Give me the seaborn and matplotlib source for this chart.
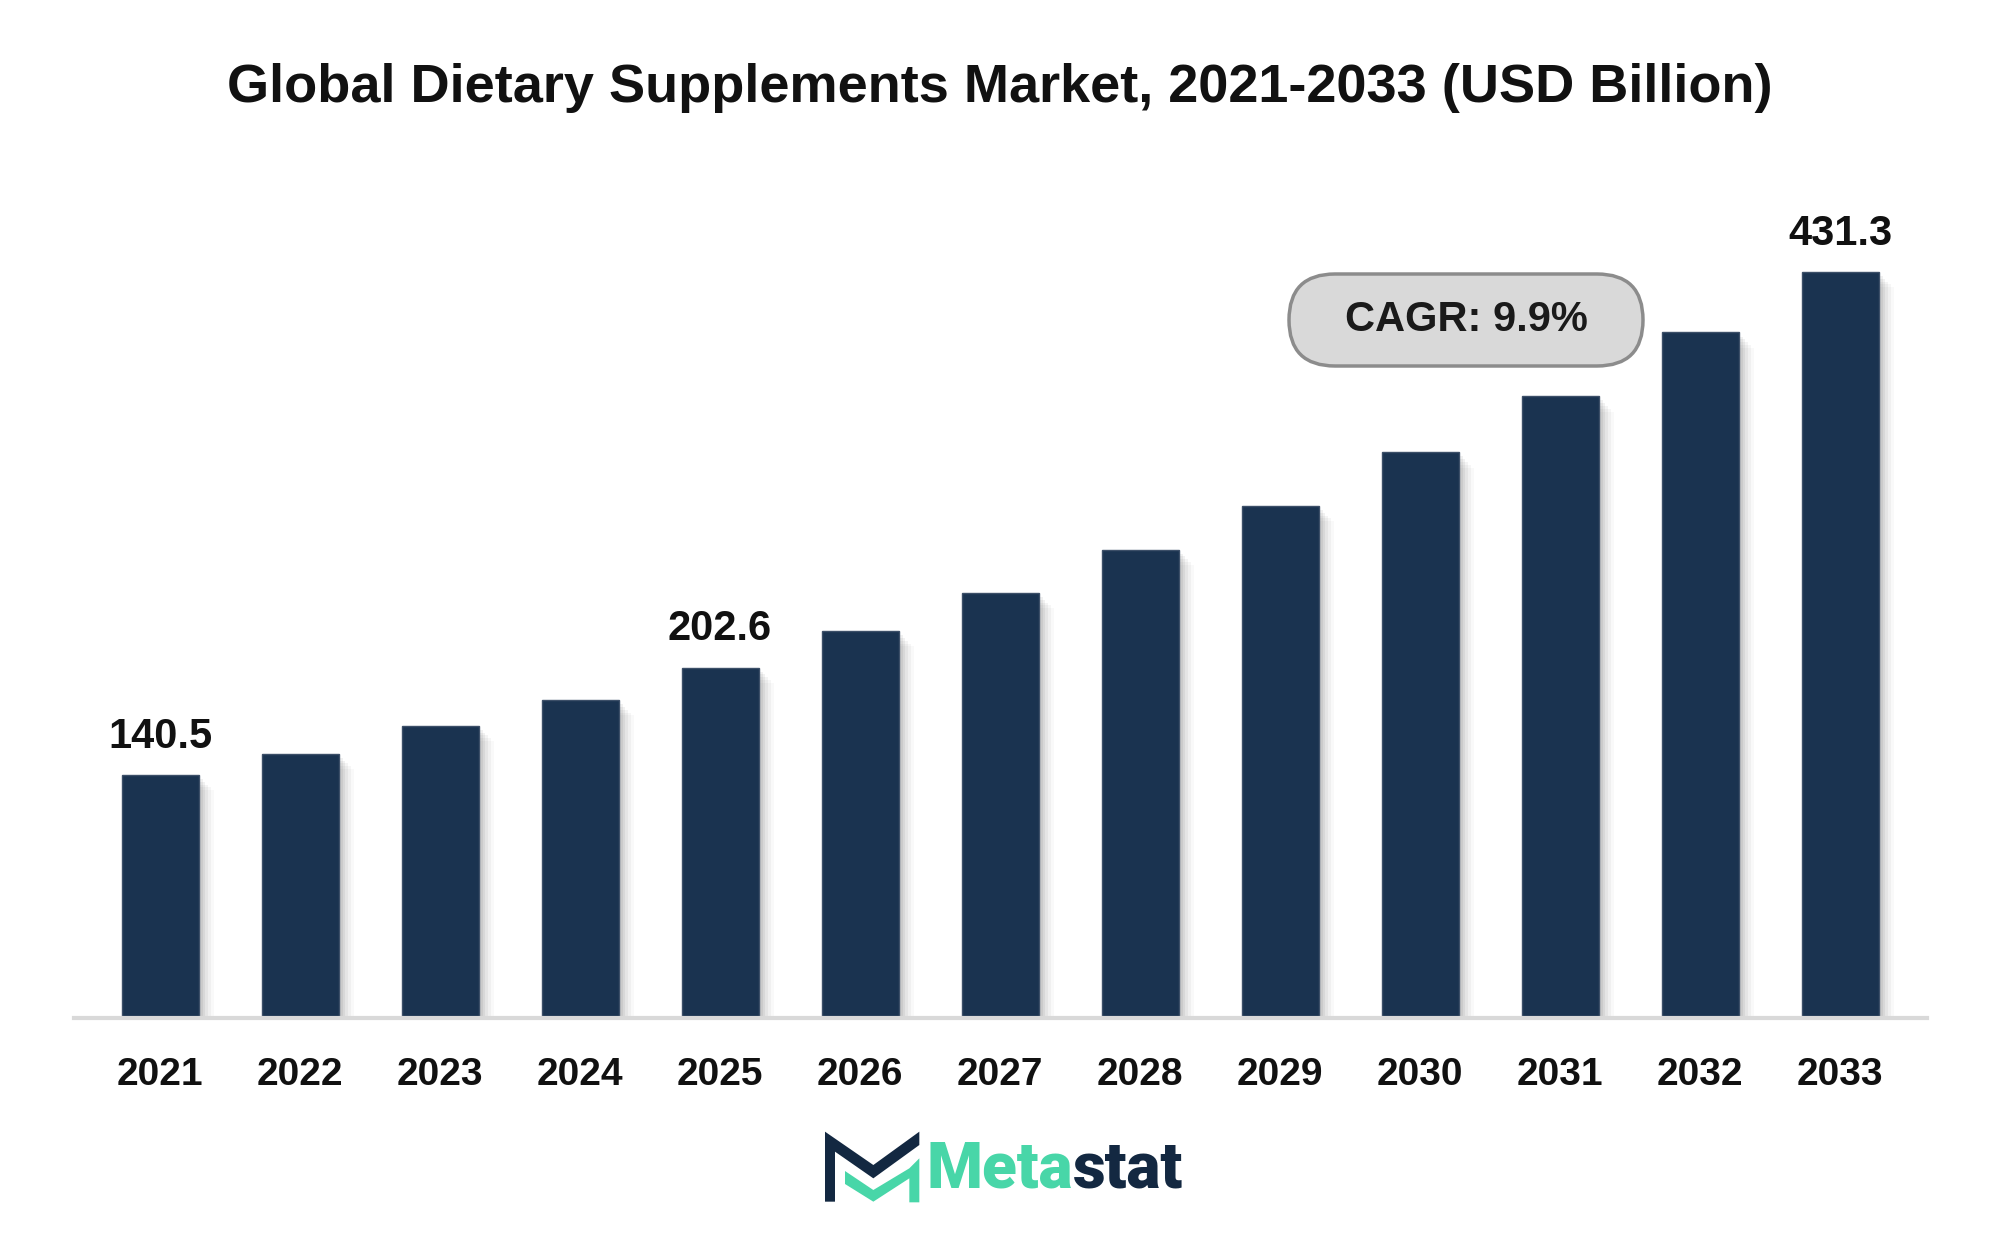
import numpy as np
import pandas as pd
import matplotlib
matplotlib.use("Agg")
import matplotlib.pyplot as plt
import matplotlib.patheffects as pe
from matplotlib.patches import FancyBboxPatch, Polygon
import seaborn as sns

years = ["2021", "2022", "2023", "2024", "2025", "2026", "2027",
         "2028", "2029", "2030", "2031", "2032", "2033"]
values = [140.5, 152.8, 169.0, 183.8, 202.6, 223.6, 245.8,
          270.8, 296.0, 327.0, 359.4, 396.3, 431.3]
labelled = {"2021": "140.5", "2025": "202.6", "2033": "431.3"}
cagr_text = "CAGR: 9.9%"
title = "Global Dietary Supplements Market, 2021-2033 (USD Billion)"

navy = "#1a3350"
green = "#48d6a8"

df = pd.DataFrame({"year": years, "value": values})

sns.set_theme(style="white")
plt.rcParams["font.family"] = ["Liberation Sans", "DejaVu Sans"]

W, H = 2000, 1240
fig = plt.figure(figsize=(20, 12.4), dpi=100)
# bar 0 centre at x=160px, spacing 140px
xl, xr = -0.615, 12.62
left_px = 160 + xl * 140
right_px = 160 + xr * 140
ax = fig.add_axes([left_px / W, (H - 1018) / H, (right_px - left_px) / W, 775 / H])

sns.barplot(data=df, x="year", y="value", color=navy, width=0.55,
            saturation=1, edgecolor="#3c4f68", linewidth=1, ax=ax)

shadow = [pe.SimplePatchShadow(offset=(o, -o), shadow_rgbFace="#000000", alpha=a)
          for o, a in [(11, 0.025), (9, 0.035), (7, 0.045), (5, 0.055), (3, 0.06)]]
for p in ax.patches:
    p.set_path_effects(shadow + [pe.Normal()])

ax.set_xlim(xl, xr)
ax.set_ylim(0, 448)
ax.set_xlabel("")
ax.set_ylabel("")
ax.set_yticks([])
ax.tick_params(axis="x", length=0, pad=28)
for t in ax.get_xticklabels():
    t.set_fontweight("bold")
    t.set_fontsize(28)
    t.set_color("#111111")

for s in ["top", "right", "left"]:
    ax.spines[s].set_visible(False)
ax.spines["bottom"].set_color("#d9d9d9")
ax.spines["bottom"].set_linewidth(3)

for i, (yr, v) in enumerate(zip(years, values)):
    if yr in labelled:
        ax.annotate(labelled[yr], (i, v), xytext=(0, 13), textcoords="offset points",
                    ha="center", va="bottom", fontsize=30, fontweight="bold",
                    color="#111111")

# CAGR pill, drawn in its own pixel-scaled axes
bx, by, bw, bh = 1289, 366, 354, 92
pax = fig.add_axes([(bx - 3) / W, 1 - (by + 3) / H, (bw + 6) / W, (bh + 6) / H])
pax.set_xlim(-3, bw + 3)
pax.set_ylim(-3, bh + 3)
pax.axis("off")
pax.add_patch(FancyBboxPatch((0, 0), bw, bh,
                             boxstyle=f"round,pad=0,rounding_size={bh / 2}",
                             facecolor="#d9d9d9", edgecolor="#8c8c8c", linewidth=2.5))
pax.text(bw / 2, bh / 2, cagr_text, ha="center", va="center",
         fontsize=30, fontweight="bold", color="#1a1a1a")

fig.text(0.5, 1 - 88 / H, title, ha="center", va="center",
         fontsize=39, fontweight="bold", color="#111111")

# logo
def px(pts, ox=780, oy=1110):
    return [((ox + x / 3) / W, 1 - (oy + y / 3) / H) for x, y in pts]

dark_pts = [(135, 65), (280, 165), (418, 65), (418, 105), (280, 205),
            (165, 125), (165, 275), (135, 275)]
green_pts = [(195, 183), (280, 240), (388, 175), (418, 145), (418, 277),
             (388, 277), (388, 205), (280, 275), (195, 222)]
fig.patches.append(Polygon(px(dark_pts), closed=True, transform=fig.transFigure,
                           facecolor="#132841", edgecolor="none"))
fig.patches.append(Polygon(px(green_pts), closed=True, transform=fig.transFigure,
                           facecolor=green, edgecolor="none"))
t1 = fig.text(926 / W, 1 - 1187 / H, "Meta", ha="left", va="baseline",
              fontsize=46, fontweight="black", family="Roboto", color=green)
fig.canvas.draw()
bb = t1.get_window_extent()
fig.text(bb.x1 / W, 1 - 1187 / H, "stat", ha="left", va="baseline",
         fontsize=46, fontweight="black", family="Roboto", color="#132841")

fig.savefig("out.png", dpi=100, facecolor="white")
